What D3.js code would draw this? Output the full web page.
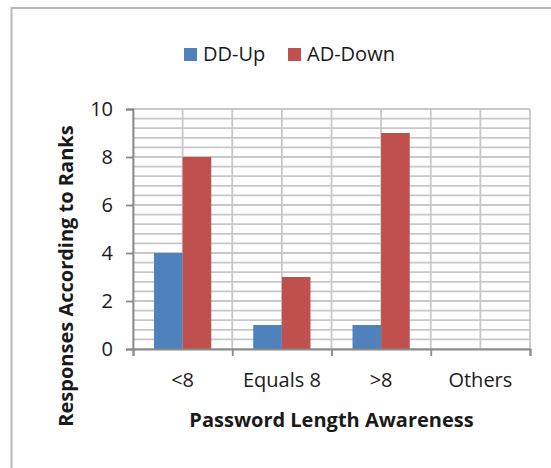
<!DOCTYPE html>
<html><head><meta charset="utf-8">
<script src="https://cdn.jsdelivr.net/npm/d3@7"></script>
<style>
html,body{margin:0;padding:0;background:#fff;}
svg{display:block;}
text{font-family:"Open Sans",sans-serif;fill:#1a1a1a;}
</style></head>
<body>
<svg id="chart" width="551" height="468"></svg>
<script>
const categories = ["<8", "Equals 8", ">8", "Others"];
const seriesNames = ["DD-Up", "AD-Down"];
const ddUp = [4, 1, 1, 0];
const adDown = [8, 3, 9, 0];
const seriesColors = ["#4F81BD", "#C0504D"];
const yTicks = [0, 2, 4, 6, 8, 10];
const xTitle = "Password Length Awareness";
const yTitle = "Responses According to Ranks";

const seriesValues = [ddUp, adDown];
const svg = d3.select("#chart");
const plot = {left: 133, right: 530, top: 109, bottom: 349};

// outer frame
svg.append("rect").attr("x", 11.5).attr("y", 8).attr("width", 600).attr("height", 600)
  .attr("fill", "#fff").attr("stroke", "#b8b8b8").attr("stroke-width", 2);

const x = d3.scaleBand().domain(categories).range([plot.left, plot.right]).padding(0);
const xLin = d3.scaleLinear().domain([0, categories.length]).range([plot.left, plot.right]);
const y = d3.scaleLinear().domain([0, 10]).range([plot.bottom, plot.top]);
const inner = 21;
const x1 = d3.scaleBand().domain(seriesNames).range([inner, x.bandwidth() - inner]).padding(0);

// grid
const g = svg.append("g");
const hMinor = d3.range(0, 10.0001, 0.4);
g.selectAll("line.h").data(hMinor).join("line")
  .attr("x1", plot.left).attr("x2", plot.right)
  .attr("y1", d => y(d)).attr("y2", d => y(d))
  .attr("stroke", "#c8c8c8").attr("stroke-width", 1.8);
const vGrid = d3.range(0, categories.length + 0.001, 0.5);
g.selectAll("line.v").data(vGrid).join("line")
  .attr("y1", plot.top).attr("y2", plot.bottom)
  .attr("x1", d => xLin(d)).attr("x2", d => xLin(d))
  .attr("stroke", "#c8c8c8").attr("stroke-width", 1.8);

// bars
const groups = svg.append("g").selectAll("g").data(categories).join("g")
  .attr("transform", d => `translate(${x(d)},0)`);
groups.selectAll("rect").data((c, i) => seriesNames.map((s, j) => ({s, j, v: seriesValues[j][i]})))
  .join("rect")
  .attr("x", d => x1(d.s)).attr("width", x1.bandwidth())
  .attr("y", d => y(d.v)).attr("height", d => y(0) - y(d.v))
  .attr("fill", d => seriesColors[d.j]);

// y axis
const yAxis = svg.append("g").attr("transform", `translate(${plot.left},0)`)
  .call(d3.axisLeft(y).tickValues(yTicks).tickSize(7).tickPadding(13).tickFormat(d3.format("d")));
yAxis.select(".domain").attr("stroke", "#8a8a8a").attr("stroke-width", 1.8);
yAxis.selectAll(".tick line").attr("stroke", "#8a8a8a").attr("stroke-width", 1.8);
yAxis.selectAll("text").style("font-size", "20px").style("font-family", "'Open Sans',sans-serif").attr("fill", "#1a1a1a");

// x axis ticks at category boundaries
const xAxisTicks = svg.append("g").attr("transform", `translate(0,${plot.bottom})`)
  .call(d3.axisBottom(xLin).tickValues(d3.range(0, categories.length + 1)).tickSize(7).tickFormat(""));
xAxisTicks.select(".domain").attr("stroke", "#8a8a8a").attr("stroke-width", 1.8);
xAxisTicks.selectAll(".tick line").attr("stroke", "#8a8a8a").attr("stroke-width", 1.8);

// x labels
const xLab = svg.append("g").attr("transform", `translate(0,${plot.bottom})`)
  .call(d3.axisBottom(x).tickSize(0).tickPadding(24));
xLab.select(".domain").remove();
xLab.selectAll("text").style("font-size", "20px").style("font-family", "'Open Sans',sans-serif").attr("fill", "#1a1a1a");

// axis titles
svg.append("text").attr("x", (plot.left + plot.right) / 2).attr("y", 427)
  .attr("text-anchor", "middle").style("font-size", "20px").style("font-weight", "bold").text(xTitle);
svg.append("text").attr("transform", "translate(73,276) rotate(-90)")
  .attr("text-anchor", "middle").style("font-size", "20px").style("font-weight", "bold").text(yTitle);

// legend
const legendPos = [{sx: 184, tx: 203}, {sx: 288, tx: 307}];
const leg = svg.append("g").selectAll("g").data(seriesNames).join("g");
leg.append("rect").attr("x", (d, i) => legendPos[i].sx).attr("y", 48).attr("width", 13).attr("height", 13)
  .attr("fill", (d, i) => seriesColors[i]);
leg.append("text").attr("x", (d, i) => legendPos[i].tx).attr("y", 61)
  .style("font-size", "20px").text(d => d);
</script>
</body></html>
